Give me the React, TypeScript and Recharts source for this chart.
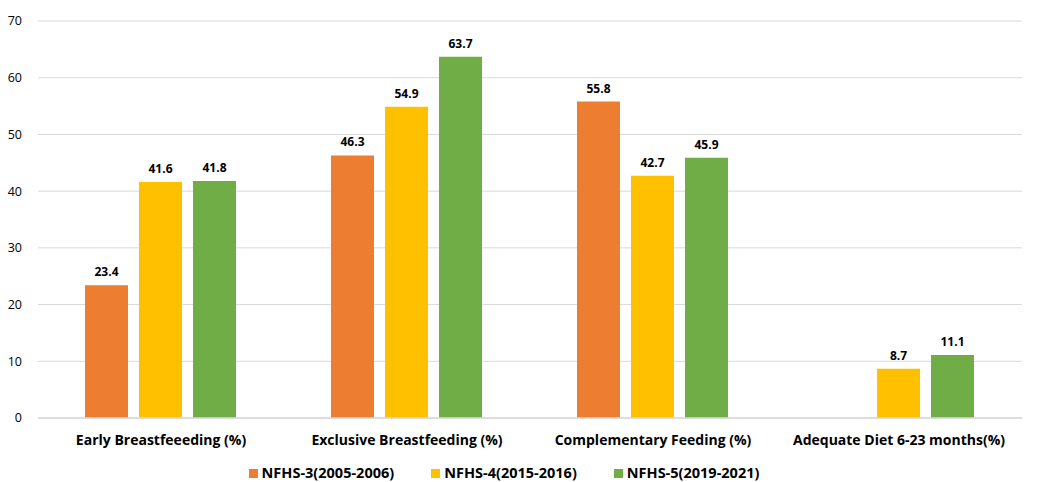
import React from 'react';
import { BarChart, Bar, XAxis, YAxis, CartesianGrid, Legend, LabelList } from 'recharts';

const categories = [
  'Early Breastfeeeding (%)',
  'Exclusive Breastfeeding (%)',
  'Complementary Feeding (%)',
  'Adequate Diet 6-23 months(%)',
];
const nfhs3 = [23.4, 46.3, 55.8, null];
const nfhs4 = [41.6, 54.9, 42.7, 8.7];
const nfhs5 = [41.8, 63.7, 45.9, 11.1];
const yTicks = [0, 10, 20, 30, 40, 50, 60, 70];

const series = [
  { key: 'nfhs3', name: 'NFHS-3(2005-2006)', color: '#ED7D31' },
  { key: 'nfhs4', name: 'NFHS-4(2015-2016)', color: '#FFC000' },
  { key: 'nfhs5', name: 'NFHS-5(2019-2021)', color: '#70AD47' },
];

const data = categories.map((name, i) => ({
  name,
  nfhs3: nfhs3[i],
  nfhs4: nfhs4[i],
  nfhs5: nfhs5[i],
}));

const font = '"Open Sans", "Liberation Sans", sans-serif';

// legend drawn by hand so spacing matches the original
const renderLegend = () => (
  <div style={{ display: 'flex', justifyContent: 'center', alignItems: 'center', gap: 37, marginLeft: -14 }}>
    {series.map((s) => (
      <div key={s.key} style={{ display: 'flex', alignItems: 'center' }}>
        <span style={{ width: 9, height: 9, background: s.color, display: 'inline-block', marginRight: 4 }} />
        <span style={{ color: '#000', fontSize: 14.5, fontWeight: 700, fontFamily: font, lineHeight: '18px' }}>{s.name}</span>
      </div>
    ))}
  </div>
);

const App: React.FC = () => {
  return (
    <div style={{ position: 'absolute', left: 0, top: 0, width: 1058, height: 482, background: '#fff', fontFamily: font }}>
      <BarChart
        width={1058}
        height={482}
        data={data}
        margin={{ top: 21, right: 36, left: 0, bottom: 0 }}
        barCategoryGap={47}
        barGap={11}
      >
        <CartesianGrid vertical={false} stroke="#d9d9d9" strokeWidth={1} />
        <XAxis
          dataKey="name"
          axisLine={{ stroke: '#d9d9d9', strokeWidth: 1.5 }}
          tickLine={false}
          height={38}
          tick={{ fill: '#000', fontSize: 14, fontWeight: 700, fontFamily: font }}
          tickMargin={11}
          interval={0}
        />
        <YAxis
          width={38}
          domain={[0, 70]}
          ticks={yTicks}
          axisLine={false}
          tickLine={false}
          tick={{ fill: '#000', fontSize: 12.5, fontFamily: font }}
          tickMargin={10}
        />
        <Legend
          verticalAlign="bottom"
          height={26}
          content={renderLegend}
          wrapperStyle={{ bottom: -8 }}
        />
        {series.map((s) => (
          <Bar key={s.key} dataKey={s.key} name={s.name} fill={s.color} isAnimationActive={false}>
            <LabelList
              dataKey={s.key}
              position="top"
              offset={9}
              style={{ fill: '#000', fontSize: 12, fontWeight: 700, fontFamily: font }}
            />
          </Bar>
        ))}
      </BarChart>
    </div>
  );
};

export default App;
